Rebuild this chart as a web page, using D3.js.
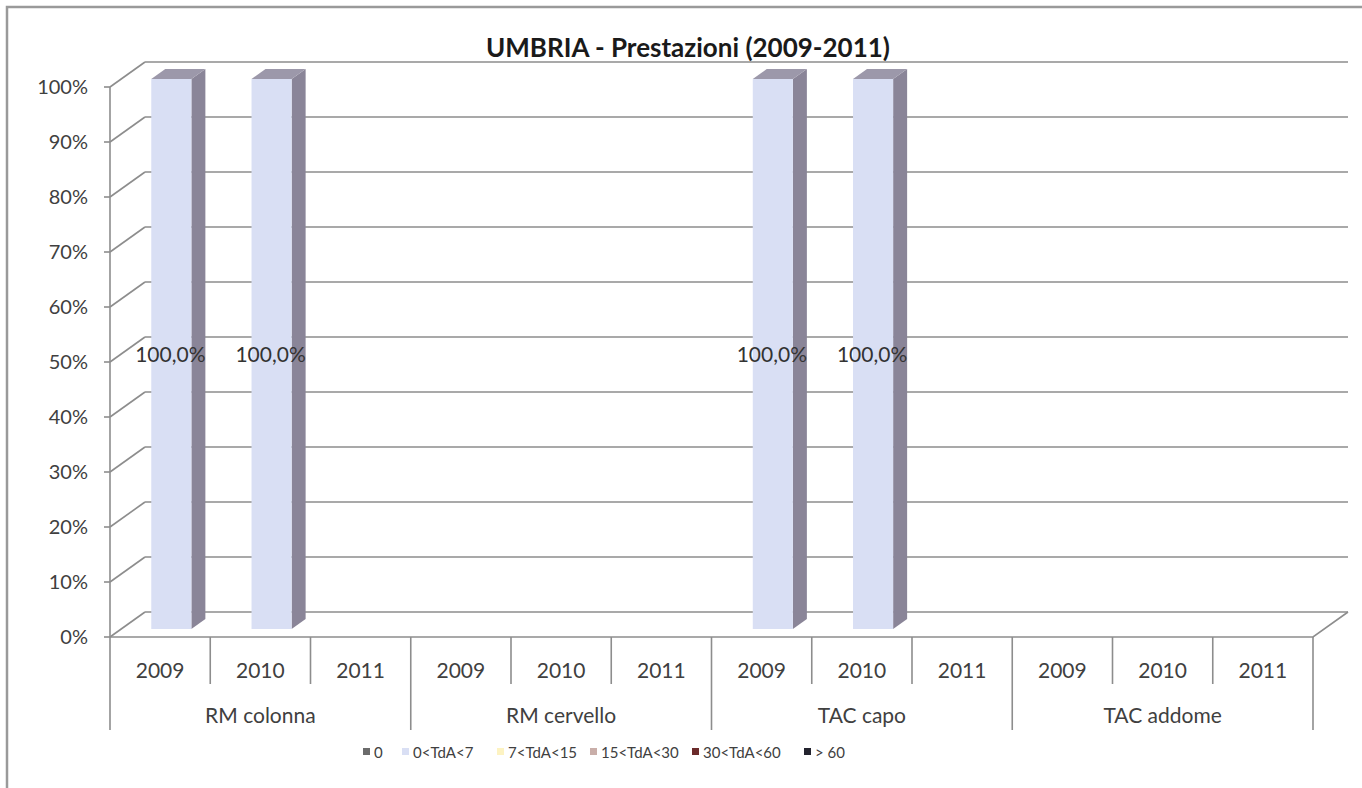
<!DOCTYPE html>
<html>
<head>
<meta charset="utf-8">
<script src="https://cdn.jsdelivr.net/npm/d3@7"></script>
<style>
  body { margin: 0; background: #fff; }
  text { font-family: Lato, "Open Sans", sans-serif; fill: #404040; }
</style>
</head>
<body>
<script>
// chart data
var groups = ["RM colonna", "RM cervello", "TAC capo", "TAC addome"];
var years = ["2009", "2010", "2011"];
var seriesNames = ["0", "0<TdA<7", "7<TdA<15", "15<TdA<30", "30<TdA<60", "> 60"];
var seriesColors = ["#6b6b6b", "#d9dff4", "#fdf3c2", "#c9aea9", "#6b2b2b", "#23232e"];
// share per bar (12 bars: group x year)
var s0 = [0, 0, 0, 0, 0, 0, 0, 0, 0, 0, 0, 0];
var s1 = [1, 1, 0, 0, 0, 0, 1, 1, 0, 0, 0, 0];
var s2 = [0, 0, 0, 0, 0, 0, 0, 0, 0, 0, 0, 0];
var s3 = [0, 0, 0, 0, 0, 0, 0, 0, 0, 0, 0, 0];
var s4 = [0, 0, 0, 0, 0, 0, 0, 0, 0, 0, 0, 0];
var s5 = [0, 0, 0, 0, 0, 0, 0, 0, 0, 0, 0, 0];
var yTicks = [0, 0.1, 0.2, 0.3, 0.4, 0.5, 0.6, 0.7, 0.8, 0.9, 1];

var width = 1362, height = 788;
var svg = d3.select("body").append("svg")
  .attr("width", width).attr("height", height);

//outer frame
svg.append("path")
  .attr("d", "M7,788 L7,7 L1362,7")
  .attr("fill", "none").attr("stroke", "#9a9a9a").attr("stroke-width", 2.5);

//title
svg.append("text")
  .attr("x", 688).attr("y", 57)
  .attr("text-anchor", "middle")
  .style("font-size", "26px").style("font-weight", "bold")
  .style("fill", "#1a1a1a")
  .text("UMBRIA - Prestazioni (2009-2011)");

//3d depth vector
var dx = 35, dy = -25;

var slots = [];
groups.forEach(function(g) { years.forEach(function(yr) { slots.push(g + "|" + yr); }); });

var x = d3.scaleBand().domain(slots).range([110, 1313]);
var y = d3.scaleLinear().domain([0, 1]).range([637, 87]);

var gridColor = "#8d8d8d";

//back wall gridlines
svg.selectAll(".grid").data(yTicks).enter().append("line")
  .attr("x1", 110 + dx).attr("x2", 1313 + dx)
  .attr("y1", function(d) { return y(d) + dy; })
  .attr("y2", function(d) { return y(d) + dy; })
  .attr("stroke", gridColor).attr("stroke-width", 1.6);

//side wall gridlines
svg.selectAll(".side").data(yTicks).enter().append("line")
  .attr("x1", 110).attr("x2", 110 + dx)
  .attr("y1", function(d) { return y(d); })
  .attr("y2", function(d) { return y(d) + dy; })
  .attr("stroke", gridColor).attr("stroke-width", 1.6);

//floor front edge + right edge
svg.append("path")
  .attr("d", "M110," + y(0) + " L1313," + y(0) + " L" + (1313 + dx) + "," + (y(0) + dy))
  .attr("fill", "none").attr("stroke", gridColor).attr("stroke-width", 1.6);

//stacked bars
var table = slots.map(function(s, i) {
  return { slot: s, "0": s0[i], "0<TdA<7": s1[i], "7<TdA<15": s2[i],
    "15<TdA<30": s3[i], "30<TdA<60": s4[i], "> 60": s5[i] };
});
var stacked = d3.stack().keys(seriesNames)(table);

var f1 = 0.32, f2 = 0.72;  //bar depth position inside the floor
var bw = x.bandwidth() * 0.4;

stacked.forEach(function(layer, k) {
  var col = d3.color(seriesColors[k]);
  layer.forEach(function(seg) {
    if (seg[1] - seg[0] <= 0) return;
    var cx = x(seg.data.slot) + x.bandwidth() / 2;
    var x0 = cx - bw / 2 + dx * f1, x1 = cx + bw / 2 + dx * f1;
    var yb = y(seg[0]) + dy * f1, yt = y(seg[1]) + dy * f1;
    var ox = dx * (f2 - f1), oy = dy * (f2 - f1);
    var g = svg.append("g");
    //side
    g.append("path")
      .attr("d", "M" + x1 + "," + yb + " L" + (x1 + ox) + "," + (yb + oy) +
        " L" + (x1 + ox) + "," + (yt + oy) + " L" + x1 + "," + yt + "Z")
      .attr("fill", "#8a8598");
    //top
    g.append("path")
      .attr("d", "M" + x0 + "," + yt + " L" + x1 + "," + yt +
        " L" + (x1 + ox) + "," + (yt + oy) + " L" + (x0 + ox) + "," + (yt + oy) + "Z")
      .attr("fill", "#9c98aa");
    //front
    g.append("rect")
      .attr("x", x0).attr("y", yt)
      .attr("width", bw).attr("height", yb - yt)
      .attr("fill", col);
    //label
    g.append("text")
      .attr("x", (x0 + x1) / 2 - 1).attr("y", (yt + yb) / 2 + 8)
      .attr("text-anchor", "middle")
      .style("font-size", "21px")
      .style("fill", "#333")
      .text(d3.format(".1%")(seg[1] - seg[0]).replace(".", ","));
  });
});

//value axis
svg.append("line")
  .attr("x1", 110).attr("x2", 110).attr("y1", y(0)).attr("y2", y(1))
  .attr("stroke", gridColor).attr("stroke-width", 1.6);
svg.selectAll(".ytick").data(yTicks).enter().append("line")
  .attr("x1", 104).attr("x2", 110)
  .attr("y1", function(d) { return y(d); }).attr("y2", function(d) { return y(d); })
  .attr("stroke", gridColor).attr("stroke-width", 1.6);
svg.selectAll(".ylab").data(yTicks).enter().append("text")
  .attr("x", 88).attr("y", function(d) { return y(d) + 7; })
  .attr("text-anchor", "end")
  .style("font-size", "20px")
  .text(function(d) { return d3.format(".0%")(d); });

//category axis: year separators and group separators
svg.selectAll(".xtick").data(slots).enter().append("line")
  .attr("x1", function(d) { return x(d); }).attr("x2", function(d) { return x(d); })
  .attr("y1", y(0))
  .attr("y2", function(d, i) { return i % 3 === 0 ? 730 : 684; })
  .attr("stroke", gridColor).attr("stroke-width", 1.6);
svg.append("line")
  .attr("x1", 1313).attr("x2", 1313).attr("y1", y(0)).attr("y2", 730)
  .attr("stroke", gridColor).attr("stroke-width", 1.6);

svg.selectAll(".yrlab").data(slots).enter().append("text")
  .attr("x", function(d) { return x(d) + x.bandwidth() / 2; })
  .attr("y", 678)
  .attr("text-anchor", "middle")
  .style("font-size", "21px")
  .text(function(d) { return d.split("|")[1]; });

svg.selectAll(".grlab").data(groups).enter().append("text")
  .attr("x", function(d, i) { return x(slots[i * 3]) + x.bandwidth() * 1.5; })
  .attr("y", 723)
  .attr("text-anchor", "middle")
  .style("font-size", "21px")
  .text(function(d) { return d; });

//legend
var legendX = [363, 402, 497, 590, 692, 804];
var legend = svg.selectAll(".legend").data(seriesNames).enter().append("g")
  .attr("transform", function(d, i) { return "translate(" + legendX[i] + ",752)"; });
legend.append("rect")
  .attr("x", 0).attr("y", -4).attr("width", 7).attr("height", 7)
  .attr("fill", function(d, i) { return seriesColors[i]; });
legend.append("text")
  .attr("x", 11).attr("y", 6)
  .style("font-size", "15px")
  .text(function(d) { return d; });
</script>
</body>
</html>
